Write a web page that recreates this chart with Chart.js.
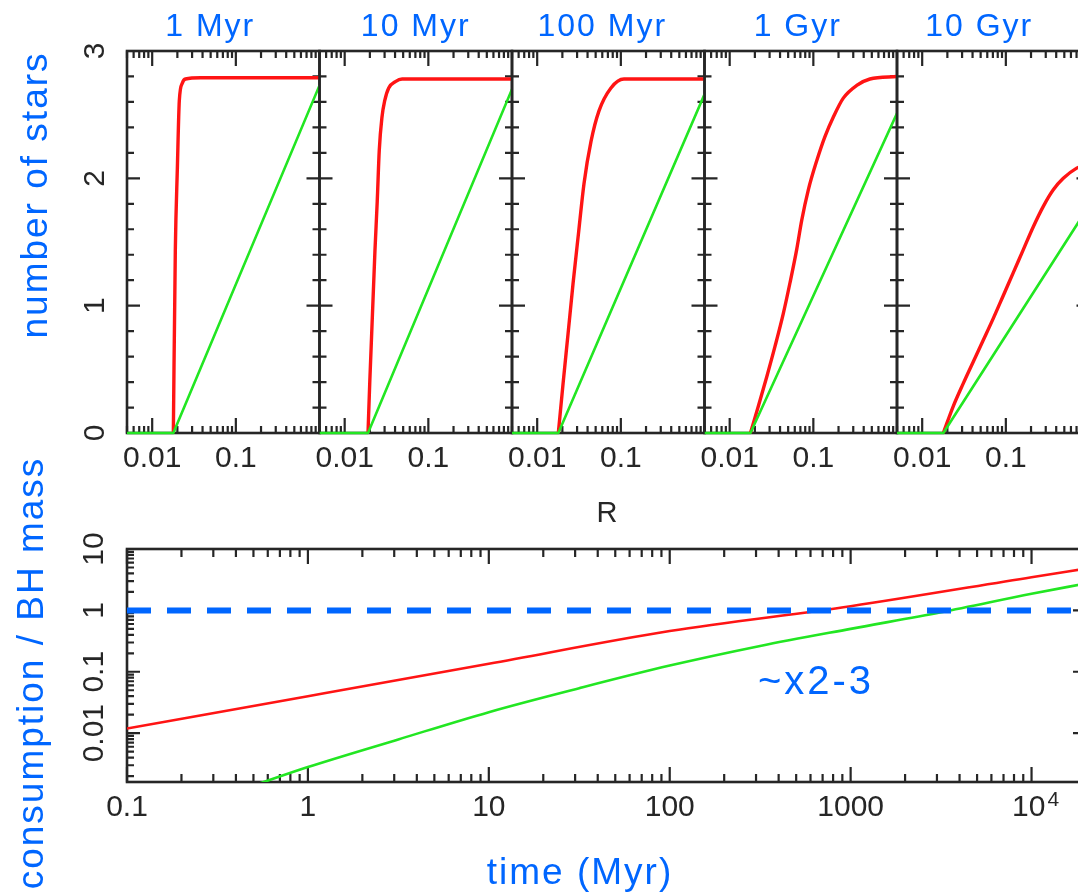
<!DOCTYPE html>
<html>
<head>
<meta charset="utf-8">
<title>Stars vs R and consumption vs time</title>
<script src="https://cdn.jsdelivr.net/npm/chart.js@4.4.1/dist/chart.umd.min.js"></script>
<style>
  html, body { margin: 0; padding: 0; background: #fff; overflow: hidden; }
  #wrap { position: relative; width: 1100px; height: 895px; }
  #wrap canvas { position: absolute; left: 0; top: 0; }
</style>
</head>
<body>
<div id="wrap">
  <canvas id="p0" width="1100" height="895"></canvas>
  <canvas id="p1" width="1100" height="895"></canvas>
  <canvas id="p2" width="1100" height="895"></canvas>
  <canvas id="p3" width="1100" height="895"></canvas>
  <canvas id="p4" width="1100" height="895"></canvas>
  <canvas id="cons" width="1100" height="895"></canvas>
</div>
<script>
// ---- data ----
const panelTitles = ['1 Myr', '10 Myr', '100 Myr', '1 Gyr', '10 Gyr'];

// number of stars vs R, red curve, one row per age
const redR = [
  [0.0179, 0.0189, 0.0200, 0.0211, 0.0230, 0.0250, 0.038, 1],
  [0.0190, 0.0200, 0.0230, 0.0245, 0.0259, 0.0279, 0.0301, 0.0336, 0.0404, 0.0486, 1],
  [0.0179, 0.0204, 0.0234, 0.0268, 0.0312, 0.0363, 0.0440, 0.0548, 0.0762, 0.109, 1],
  [0.0177, 0.0220, 0.0277, 0.0348, 0.0438, 0.0526, 0.0632, 0.0726, 0.0871, 0.110, 0.138, 0.173, 0.228, 0.330, 0.475, 1],
  [0.0179, 0.0235, 0.0310, 0.0408, 0.0538, 0.0708, 0.0933, 0.1228, 0.1618, 0.213, 0.2805, 0.369, 0.486, 0.703, 1]
];
const redN = [
  [0, 1.43, 2.08, 2.61, 2.75, 2.78, 2.79, 2.79],
  [0, 0.42, 1.43, 1.82, 2.22, 2.48, 2.61, 2.71, 2.76, 2.78, 2.78],
  [0, 0.39, 0.78, 1.17, 1.57, 1.96, 2.29, 2.53, 2.71, 2.78, 2.78],
  [0, 0.21, 0.44, 0.68, 0.94, 1.18, 1.44, 1.67, 1.91, 2.14, 2.33, 2.48, 2.63, 2.73, 2.78, 2.80],
  [0, 0.21, 0.39, 0.56, 0.73, 0.90, 1.08, 1.26, 1.44, 1.62, 1.78, 1.91, 2.00, 2.08, 2.12]
];

// green curve
const greenR = [
  [0.005, 0.0179, 1],
  [0.005, 0.0190, 1],
  [0.005, 0.0179, 1],
  [0.005, 0.0177, 1],
  [0.005, 0.0179, 1]
];
const greenN = [
  [0, 0, 2.73],
  [0, 0, 2.70],
  [0, 0, 2.66],
  [0, 0, 2.51],
  [0, 0, 1.79]
];

const rTicks = [0.01, 0.1];
const nTicks = [0, 1, 2, 3];

// consumption / BH mass vs time (Myr)
const timeRed = [0.1, 1, 10, 100, 1000, 10000, 20000];
const consRed = [0.0119, 0.040, 0.135, 0.46, 1.17, 3.47, 4.8];
const timeGreen = [0.5, 1, 3.16, 10, 31.6, 100, 316, 1000, 3160, 10000, 20000];
const consGreen = [0.0014, 0.0028, 0.0079, 0.022, 0.054, 0.126, 0.263, 0.50, 0.93, 1.86, 2.75];
const timeRef = [0.1, 20000];
const consRef = [1, 1];

const timeTicks = [0.1, 1, 10, 100, 1000, 10000];
const consTicks = [0.01, 0.1, 1, 10];

// ---- style ----
const INK = '#262626';
const BLUE = '#0066ff';
const RED = '#ff1414';
const GREEN = '#22e622';
const SANS = '"Liberation Sans", Arial, Helvetica, sans-serif';
const TICK_FONT = '30px ' + SANS;

const pts = (xs, ys) => xs.map((x, i) => ({ x, y: ys[i] }));

function logMinors(min, max) {
  const out = [];
  for (let e = Math.floor(Math.log10(min)); e < Math.ceil(Math.log10(max)); e++) {
    for (let m = 2; m <= 9; m++) {
      const v = m * Math.pow(10, e);
      if (v >= min && v <= max) out.push(v);
    }
  }
  return out;
}

// box with inward ticks on all four sides, plus tick labels
function makeFrame(o) {
  return {
    id: 'frameTicks',
    beforeDatasetsDraw(chart) {
      const { ctx, chartArea: a } = chart;
      const sx = chart.scales.x, sy = chart.scales.y;
      ctx.save();
      ctx.strokeStyle = INK;
      ctx.lineWidth = 2.2;
      ctx.beginPath();
      const vx = (vals, len) => vals.forEach(v => {
        const px = sx.getPixelForValue(v);
        ctx.moveTo(px, a.bottom); ctx.lineTo(px, a.bottom - len);
        ctx.moveTo(px, a.top); ctx.lineTo(px, a.top + len);
      });
      const vy = (vals, len) => vals.forEach(v => {
        const py = sy.getPixelForValue(v);
        ctx.moveTo(a.left, py); ctx.lineTo(a.left + len, py);
        ctx.moveTo(a.right, py); ctx.lineTo(a.right - len, py);
      });
      vx(o.xMajor, o.xMajorLen); vx(o.xMinor, o.xMinorLen);
      vy(o.yMajor, o.yMajorLen); vy(o.yMinor, o.yMinorLen);
      ctx.stroke();
      ctx.lineWidth = 2.6;
      ctx.strokeRect(a.left, a.top, a.right - a.left, a.bottom - a.top);

      ctx.fillStyle = INK;
      ctx.font = TICK_FONT;
      ctx.textBaseline = 'middle';
      (o.xLabels || []).forEach(l => {
        const px = sx.getPixelForValue(l.v);
        if (l.sup) {
          ctx.font = TICK_FONT;
          const wb = ctx.measureText(l.text).width;
          ctx.font = '21px ' + SANS;
          const ws = ctx.measureText(l.sup).width;
          const x0 = px + 4 - (wb + ws + 2) / 2;
          ctx.textAlign = 'left';
          ctx.font = TICK_FONT;
          ctx.fillText(l.text, x0, o.xLabelY);
          ctx.font = '21px ' + SANS;
          ctx.fillText(l.sup, x0 + wb + 2, o.xLabelY - 8);
          ctx.font = TICK_FONT;
        } else {
          ctx.textAlign = 'center';
          ctx.fillText(l.text, px, o.xLabelY);
        }
      });
      ctx.textAlign = 'center';
      (o.yLabels || []).forEach(l => {
        const py = sy.getPixelForValue(l.v);
        ctx.save();
        ctx.translate(o.yLabelX, py);
        ctx.rotate(-Math.PI / 2);
        ctx.fillText(l.text, 0, 0);
        ctx.restore();
      });
      ctx.restore();
    }
  };
}

function makeCaptions(items) {
  return {
    id: 'captions',
    afterDraw(chart) {
      const { ctx, chartArea: a } = chart;
      items.forEach(t => {
        ctx.save();
        ctx.font = t.font;
        ctx.fillStyle = t.color;
        ctx.letterSpacing = (t.spacing || 0) + 'px';
        ctx.textAlign = 'center';
        ctx.textBaseline = t.baseline || 'alphabetic';
        const x = t.cx !== undefined ? (a.left + a.right) / 2 + t.cx : t.x;
        ctx.translate(x, t.y);
        if (t.rotate) ctx.rotate(-Math.PI / 2);
        ctx.fillText(t.text, 0, 0);
        ctx.restore();
      });
    }
  };
}

function makeChart(id, pad, xScale, yScale, datasets, frame, items) {
  return new Chart(document.getElementById(id), {
    type: 'line',
    data: { datasets },
    options: {
      responsive: false,
      animation: false,
      devicePixelRatio: 1,
      events: [],
      layout: { padding: pad },
      scales: {
        x: Object.assign({ display: false }, xScale),
        y: Object.assign({ display: false }, yScale)
      },
      plugins: { legend: { display: false }, tooltip: { enabled: false } },
      elements: { point: { radius: 0 }, line: { borderCapStyle: 'butt', borderJoinStyle: 'round' } }
    },
    plugins: [makeFrame(frame), makeCaptions(items)]
  });
}

// ---- top row: five R panels ----
const W = 1100, H = 895;
const panelLeft = 127, panelW = 192.5, panelTop = 51, panelBottom = 433;
const titleShift = [-13, 0, -6, -3, -14];
const nMinor = [];
for (let i = 1; i < 15; i++) if (i % 5) nMinor.push(i * 0.2);

panelTitles.forEach((title, i) => {
  const left = panelLeft + i * panelW;
  const items = [{ text: title, cx: titleShift[i], y: 36, font: '32px ' + SANS, color: BLUE, spacing: 2 }];
  if (i === 0) {
    items.push({ text: 'number of stars', x: 47, y: 195, rotate: true, font: '37px ' + SANS, color: BLUE, spacing: 2 });
  }
  const clip = { left: 0, right: 0, top: 6, bottom: 6 };
  makeChart('p' + i,
    { left, right: W - left - panelW, top: panelTop, bottom: H - panelBottom },
    { type: 'logarithmic', min: 0.005, max: 1 },
    { type: 'linear', min: 0, max: 3 },
    [
      { data: pts(greenR[i], greenN[i]), borderColor: GREEN, borderWidth: 2.6, clip },
      { data: pts(redR[i], redN[i]), borderColor: RED, borderWidth: 3.4, cubicInterpolationMode: 'monotone', clip }
    ],
    {
      xMajor: rTicks, xMinor: logMinors(0.005, 1).filter(v => v < 0.999), xMajorLen: 15, xMinorLen: 7,
      yMajor: nTicks.slice(1, 3), yMinor: nMinor, yMajorLen: 13, yMinorLen: 7,
      xLabels: rTicks.map(v => ({ v, text: String(v) })), xLabelY: 459,
      yLabels: i === 0 ? nTicks.map(v => ({ v, text: String(v) })) : [], yLabelX: 96
    },
    items);
});

// ---- bottom: consumption vs time ----
const timeLabels = timeTicks.map(v => v === 10000 ? { v, text: '10', sup: '4' } : { v, text: String(v) });
makeChart('cons',
  { left: 127, right: W - 1086, top: 549, bottom: H - 782 },
  { type: 'logarithmic', min: 0.1, max: 20000 },
  { type: 'logarithmic', min: 0.0016, max: 10 },
  [
    { data: pts(timeRef, consRef), borderColor: BLUE, borderWidth: 6, borderDash: [24, 16] },
    { data: pts(timeGreen, consGreen), borderColor: GREEN, borderWidth: 2.6, cubicInterpolationMode: 'monotone' },
    { data: pts(timeRed, consRed), borderColor: RED, borderWidth: 2.6, cubicInterpolationMode: 'monotone' }
  ],
  {
    xMajor: timeTicks, xMinor: logMinors(0.1, 20000), xMajorLen: 15, xMinorLen: 8,
    yMajor: consTicks, yMinor: logMinors(0.0016, 10), yMajorLen: 13, yMinorLen: 7,
    xLabels: timeLabels, xLabelY: 808,
    yLabels: consTicks.map(v => ({ v, text: String(v) })), yLabelX: 95
  },
  [
    { text: 'R', x: 607, y: 514, baseline: 'middle', font: '29px ' + SANS, color: INK },
    { text: 'consumption / BH mass', x: 43, y: 673, rotate: true, font: '37px ' + SANS, color: BLUE, spacing: 2 },
    { text: 'time (Myr)', x: 580, y: 884, font: '37px ' + SANS, color: BLUE, spacing: 2 },
    { text: '~x2-3', x: 816, y: 694, font: '40px ' + SANS, color: BLUE, spacing: 3 }
  ]);
</script>
</body>
</html>
